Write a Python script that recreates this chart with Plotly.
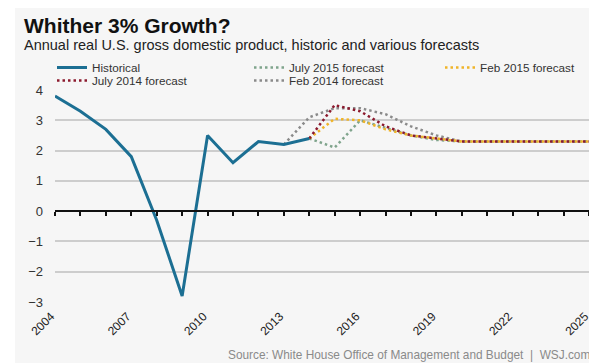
import plotly.graph_objects as go

hist_years = list(range(2004, 2015))
hist_vals = [3.8, 3.3, 2.7, 1.8, -0.3, -2.8, 2.5, 1.6, 2.3, 2.2, 2.4]

feb2014_years = list(range(2013, 2026))
feb2014_vals = [2.2, 3.1, 3.4, 3.4, 3.2, 2.8, 2.5, 2.3, 2.3, 2.3, 2.3, 2.3, 2.3]

jul2014_years = list(range(2014, 2026))
jul2014_vals = [2.4, 3.5, 3.3, 2.8, 2.5, 2.4, 2.3, 2.3, 2.3, 2.3, 2.3, 2.3]

feb2015_years = list(range(2014, 2026))
feb2015_vals = [2.4, 3.05, 3.0, 2.7, 2.5, 2.4, 2.3, 2.3, 2.3, 2.3, 2.3, 2.3]

jul2015_years = list(range(2014, 2026))
jul2015_vals = [2.4, 2.1, 3.0, 2.75, 2.5, 2.35, 2.3, 2.3, 2.3, 2.3, 2.3, 2.3]

x_ticks = [2004, 2007, 2010, 2013, 2016, 2019, 2022, 2025]
y_ticks = [-3, -2, -1, 0, 1, 2, 3, 4]

# page has an 8px body margin; the figure is sized to fill the rest of the window
OFF = 8
W, H = 597 - OFF, 363 - OFF
ML, MR, MT, MB = 55 - OFF, 8, 90 - OFF, 363 - 302
PW, PH = W - ML - MR, H - MT - MB


def px_x(p):
    """reference page x pixel -> paper x"""
    return (p - OFF - ML) / PW


def px_y(p):
    """reference page y pixel -> paper y"""
    return (H - MB - (p - OFF)) / PH


FONT = "Liberation Sans, Arial, sans-serif"
DOT = "2.5px,3px"

fig = go.Figure()
fig.add_trace(go.Scatter(x=feb2014_years, y=feb2014_vals, mode="lines", name="Feb 2014 forecast",
                         line=dict(color="#8a8a8a", width=2.5, dash=DOT), legend="legend2",
                         legendrank=2))
fig.add_trace(go.Scatter(x=jul2015_years, y=jul2015_vals, mode="lines", name="July 2015 forecast",
                         line=dict(color="#7fa48c", width=2.5, dash=DOT), legendrank=2))
fig.add_trace(go.Scatter(x=feb2015_years, y=feb2015_vals, mode="lines", name="Feb 2015 forecast",
                         line=dict(color="#f0b428", width=2.5, dash=DOT), legend="legend3"))
fig.add_trace(go.Scatter(x=jul2014_years, y=jul2014_vals, mode="lines", name="July 2014 forecast",
                         line=dict(color="#8c1a2e", width=2.5, dash=DOT), legend="legend2",
                         legendrank=1))
fig.add_trace(go.Scatter(x=hist_years, y=hist_vals, mode="lines", name="Historical",
                         line=dict(color="#1c6f93", width=3), legendrank=1))

# second x-axis drawn as the zero line with yearly tick marks
fig.add_trace(go.Scatter(x=[2004, 2025], y=[None, None], xaxis="x2", showlegend=False,
                         hoverinfo="skip"))

legend_common = dict(orientation="h", xanchor="left", yanchor="top", bgcolor="rgba(0,0,0,0)",
                     font=dict(size=11.7, color="#333"), entrywidth=152, entrywidthmode="pixels",
                     itemwidth=30, tracegroupgap=0)

fig.update_layout(
    width=W, height=H,
    margin=dict(l=ML, r=MR, t=MT, b=MB, autoexpand=False),
    paper_bgcolor="white",
    plot_bgcolor="rgba(0,0,0,0)",
    font=dict(family=FONT, color="#222"),
    xaxis=dict(range=[2004, 2025], tickvals=x_ticks, ticktext=[str(v) for v in x_ticks],
               tickangle=-45, showgrid=False, zeroline=False, showline=False, ticks="",
               tickfont=dict(size=12, color="#222"), ticklabelstandoff=4, ticklabelshift=-4),
    xaxis2=dict(range=[2004, 2025], overlaying="x", anchor="free", position=3 / 7, side="bottom",
                showline=True, linecolor="#111", linewidth=2, ticks="outside", dtick=1, tick0=2004,
                ticklen=4, tickwidth=1.5, tickcolor="#111", showticklabels=False, showgrid=False,
                zeroline=False),
    yaxis=dict(range=[-3, 4], tickvals=y_ticks, showgrid=True, gridcolor="#cdcdcd", gridwidth=1.5,
               zeroline=False, showline=False, tickfont=dict(size=13, color="#333"),
               ticklabelstandoff=11),
    legend=dict(x=px_x(52), y=px_y(53), **legend_common),
    legend2=dict(x=px_x(52), y=px_y(66), **legend_common),
    legend3=dict(x=px_x(440), y=px_y(53), **legend_common),
    showlegend=True,
    shapes=[dict(type="rect", xref="paper", yref="paper", x0=px_x(15), x1=px_x(600),
                 y0=px_y(366), y1=px_y(6), fillcolor="#f6f6f6", line=dict(width=0),
                 layer="below")],
    annotations=[
        dict(text="<b>Whither 3% Growth?</b>", xref="paper", yref="paper", x=px_x(22), y=px_y(25),
             xanchor="left", yanchor="middle", showarrow=False, font=dict(size=21, color="#111")),
        dict(text="Annual real U.S. gross domestic product, historic and various forecasts",
             xref="paper", yref="paper", x=px_x(22), y=px_y(45), xanchor="left", yanchor="middle",
             showarrow=False, font=dict(size=14.5, color="#222")),
        dict(text="Source: White House Office of Management and Budget  |  WSJ.com",
             xref="paper", yref="paper", x=px_x(592), y=px_y(355), xanchor="right", yanchor="middle",
             showarrow=False, font=dict(size=11.85, color="#8a8a8a")),
    ],
)

fig.write_html("out.html")
